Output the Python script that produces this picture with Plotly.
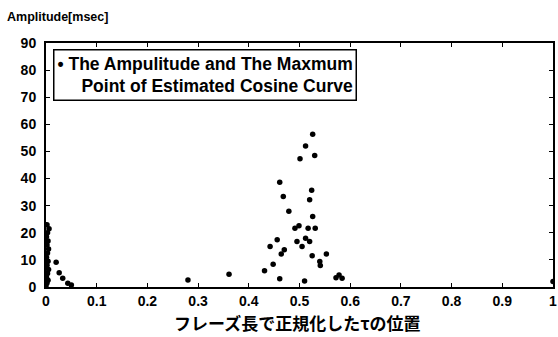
import plotly.graph_objects as go

# Normalised position (x) and amplitude in msec (y)
pos_x = [0.0, 0.002, 0.004, 0.001, 0.003, 0.005, 0.002, 0.004, 0.001, 0.003,
         0.005, 0.002, 0.004, 0.001, 0.003, 0.006, 0.002,
         0.020, 0.026, 0.033, 0.043, 0.050,
         0.280, 0.361,
         0.431, 0.442, 0.448, 0.456, 0.461, 0.461, 0.464, 0.468, 0.470, 0.479,
         0.491, 0.495, 0.499, 0.501, 0.505, 0.510, 0.512, 0.512, 0.517, 0.520,
         0.520, 0.524, 0.525, 0.526, 0.526, 0.530, 0.531, 0.540, 0.541, 0.553,
         0.572, 0.578, 0.584,
         1.0]
amp_y = [0.5, 1.5, 2.5, 3.5, 5.0, 6.5, 8.0, 9.5, 11.0, 12.5,
         14.0, 15.5, 17.0, 18.5, 20.0, 21.5, 23.0,
         9.1, 5.3, 3.2, 1.4, 0.7,
         2.6, 4.7,
         6.0, 14.9, 8.4, 17.4, 38.6, 3.0, 12.2, 33.4, 13.7, 27.9,
         21.7, 16.8, 22.6, 47.3, 14.9, 2.2, 52.0, 18.0, 21.7, 32.2,
         16.8, 35.7, 11.5, 56.3, 26.0, 48.5, 21.7, 9.4, 7.9, 12.2,
         3.4, 4.4, 3.2,
         2.0]

x_ticks = [0, 0.1, 0.2, 0.3, 0.4, 0.5, 0.6, 0.7, 0.8, 0.9, 1]
y_ticks = [0, 10, 20, 30, 40, 50, 60, 70, 80, 90]

series_name = "The Ampulitude and The Maxmum Point of Estimated Cosine Curve"
legend_text = ("\u2022 The Ampulitude and The Maxmum<br>"
               "Point of Estimated Cosine Curve")

fig = go.Figure()
fig.add_trace(go.Scatter(
    x=pos_x, y=amp_y, mode="markers", name=series_name,
    marker=dict(color="black", size=5.5, symbol="circle"),
    showlegend=False,
))

axis_common = dict(
    showgrid=False, zeroline=False, showline=True, linecolor="black",
    linewidth=2, mirror="allticks", ticks="inside", ticklen=4,
    tickcolor="black", tickwidth=1,
    tickfont=dict(family="Liberation Sans", size=14, color="black", weight="bold"),
)

fig.update_layout(
    width=558, height=337,
    margin=dict(l=46, r=5, t=43, b=50, autoexpand=False),
    paper_bgcolor="white", plot_bgcolor="white",
    xaxis=dict(range=[0, 1], tickvals=x_ticks,
               ticktext=[str(t) for t in x_ticks], automargin=False,
               **axis_common),
    yaxis=dict(range=[0, 90], tickvals=y_ticks, automargin=False,
               ticklabelstandoff=5, **axis_common),
    annotations=[
        dict(text=legend_text, xref="paper", yref="paper",
             x=0.014, y=0.975, xanchor="left", yanchor="top", showarrow=False,
             align="right", bordercolor="black", borderwidth=1.5, borderpad=3,
             bgcolor="white",
             font=dict(family="Liberation Sans", size=17.5, color="black", weight="bold")),
        dict(text="Amplitude[msec]", xref="paper", yref="paper",
             x=-0.0805, y=1.1066, xanchor="left", yanchor="middle", showarrow=False,
             font=dict(family="Liberation Sans", size=12.5, color="black", weight="bold")),
        dict(text="フレーズ長で正規化したτの位置", xref="paper", yref="paper",
             x=0.495, y=-0.145, xanchor="center", yanchor="middle", showarrow=False,
             font=dict(family="Noto Sans CJK JP", size=17, color="black", weight="bold")),
    ],
)

fig.write_html("out.html", config={"displayModeBar": False},
               post_script="document.body.style.margin='0';")
